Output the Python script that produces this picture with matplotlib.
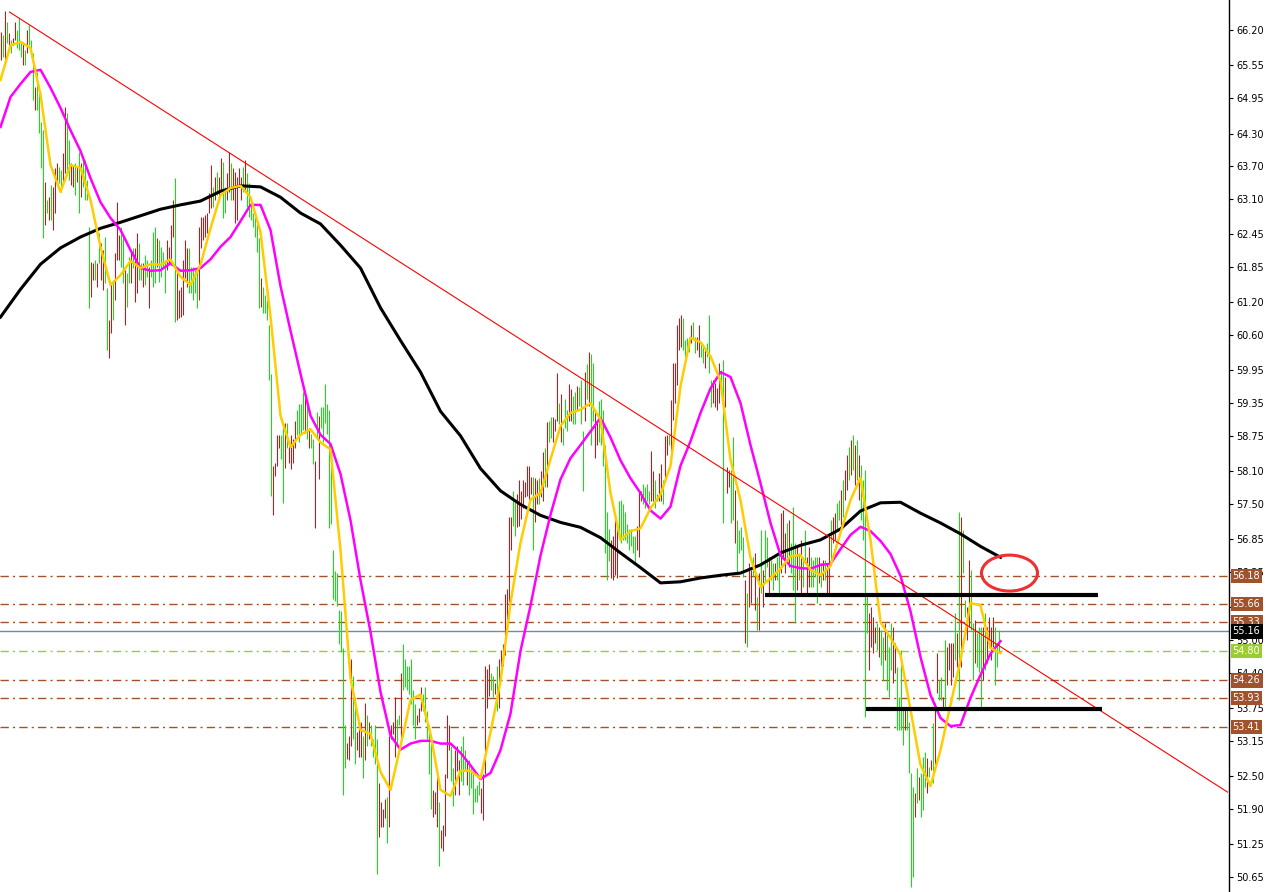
import matplotlib
matplotlib.use("Agg")
import matplotlib.pyplot as plt
import matplotlib.transforms as mtransforms
from matplotlib.patches import Ellipse
import numpy as np

# ---- bar data (oldest first), high / low, g = up bar, r = down bar ----
highs = [
    66.16, 66.11, 66.55, 66.35, 66.14, 66.02, 66.05, 66.35, 66.20,
    66.42, 65.96, 65.98, 65.83, 66.20, 66.29, 66.02,
    65.78, 65.15, 65.43, 65.10, 64.51, 64.36, 63.41, 63.08, 63.13, 63.35,
    63.32, 63.67, 63.76, 63.68, 63.63, 63.94, 64.79, 64.68, 64.18, 63.76,
    63.72, 63.76, 63.68, 63.96, 63.76, 63.85, 63.81, 63.45, 62.58, 61.94,
    61.92, 61.98, 61.92, 62.47, 62.29, 62.16,
    62.40, 61.46, 60.88, 61.56, 61.61, 62.11, 63.04, 62.44, 62.58, 62.44,
    61.79, 61.74, 62.03, 62.16, 62.20, 62.20, 62.47, 62.29, 61.92, 61.92, 62.07,
    61.98, 61.85, 61.98, 62.49, 62.58, 62.38, 62.34, 62.22, 62.12, 61.98, 62.34,
    62.22, 62.62, 63.08, 63.48, 61.79, 61.43, 61.48, 61.98, 62.34, 62.20,
    62.20, 61.85, 61.85, 61.79, 61.76, 62.58, 62.77, 62.77, 62.80, 62.84,
    63.21, 63.72, 63.32, 63.50, 63.59, 63.50, 63.85, 63.78, 63.32, 63.57,
    63.96, 63.76, 63.67, 63.59, 63.50, 63.67, 63.50, 63.68, 63.81, 63.57,
    63.39, 63.04, 62.84, 62.84, 62.75, 62.38, 61.65, 61.48, 61.33, 61.24,
    60.79, 59.89, 58.20, 58.25, 58.76, 58.76, 58.76, 58.94, 58.99, 58.99,
    58.57, 58.76, 58.70, 59.03, 59.22, 59.34, 59.34, 59.55, 59.55, 59.34,
    58.90, 58.79, 58.70, 58.29, 59.18, 59.12, 59.27, 59.27, 59.71, 59.34,
    59.22, 58.52,
    56.65, 56.27, 56.23, 55.56, 55.53, 54.85, 53.44, 53.11,
    53.24, 54.66, 54.34, 53.95, 53.31, 53.44, 53.50, 53.24, 53.85, 53.63,
    53.50, 53.44, 53.18, 53.44, 53.18, 52.37, 52.02, 51.89, 52.09, 52.12,
    53.24, 53.44, 53.50, 53.95, 53.56, 53.63, 54.40, 54.92, 54.66, 54.53,
    54.53, 54.66, 54.08, 53.82, 53.63, 53.76, 54.14, 54.01, 54.14, 53.69,
    53.44, 53.18, 52.25, 52.21, 52.54, 52.02, 51.51, 51.60, 52.54, 53.63,
    53.44, 53.05, 52.66, 52.99, 53.05, 52.79, 53.05, 53.24, 52.99, 52.79,
    52.79, 52.66, 52.60, 52.28, 52.34, 52.41, 52.28, 52.54, 54.53, 54.47,
    54.56, 54.40, 54.34, 54.21, 54.53, 54.66, 54.82, 54.92, 55.85, 55.94,
    57.26, 57.26, 57.74, 57.55, 57.68, 57.94, 57.74, 57.94, 57.91, 58.19,
    58.19, 58.00, 58.00, 57.97, 57.94, 57.97, 58.10, 58.45, 58.52, 59.00,
    59.03, 59.10, 59.10, 59.06, 59.90, 59.35, 59.51, 58.90, 59.42, 59.22,
    59.71, 59.61, 59.48, 59.55, 59.67, 59.64, 59.77, 58.84, 59.93, 60.06,
    60.28, 60.25, 60.09, 59.22, 59.03, 59.38, 59.42, 59.22, 58.58, 57.36,
    57.04, 56.84, 56.91, 57.23, 57.17, 57.55, 57.58, 57.49, 57.36, 57.13,
    57.04, 57.04, 56.91, 56.91, 57.10, 57.74, 57.74, 57.87, 57.81, 57.87,
    57.74, 58.48, 58.10, 57.94, 57.68, 58.07, 58.23, 57.94, 58.74, 58.77, 58.77,
    59.41, 60.09, 60.09, 60.78, 60.91, 60.97, 60.91, 60.51, 60.55,
    60.56, 60.78, 60.84, 60.56, 60.56, 60.78, 60.45, 60.38, 60.32, 60.45,
    60.97, 59.77, 59.77, 59.72, 59.63, 60.09, 59.96, 60.14, 59.83, 58.18,
    58.12, 58.12, 58.73, 57.75, 57.20, 57.02, 57.08, 56.89, 56.10, 55.86,
    56.41, 56.29, 56.52, 56.60, 55.79, 56.23, 57.02, 56.29, 57.02, 56.89,
    56.52, 56.47, 56.41, 56.41, 56.52, 56.60, 57.33, 57.39, 56.97, 57.15,
    57.20, 56.78, 57.44, 56.78, 56.71, 56.60, 56.84, 56.52, 57.02, 56.52,
    56.71, 56.52, 56.47, 56.52, 56.52, 56.52, 56.41, 56.47, 56.47, 56.41,
    56.97, 57.20, 57.26, 57.33, 57.52, 57.57, 57.75, 57.94, 58.12, 58.40,
    58.54, 58.67, 58.76, 58.58, 58.67, 58.40, 58.21, 57.94, 58.12,
    55.86, 55.50, 55.61, 55.42, 55.24, 55.31, 55.24, 55.18, 55.06, 55.31,
    55.13, 54.87, 55.31, 55.24, 54.95, 54.51, 53.95,
    54.82, 53.72, 53.72, 53.72, 53.50, 52.56, 52.30, 52.19, 52.65, 52.49,
    52.56, 52.85, 52.94, 52.83, 52.67, 52.80, 53.48, 53.84, 54.76, 54.27,
    54.32, 53.95, 55.00, 54.87, 54.95, 54.95, 54.95, 55.50, 55.13, 57.35,
    57.26, 57.02, 55.74, 55.61, 56.47, 56.29, 55.31, 55.37, 55.13, 55.24,
    55.24, 55.24, 55.50, 55.24, 55.42, 55.24, 55.42, 55.24, 54.95, 55.18,
]
lows = [
    65.65, 65.70, 65.59, 65.96, 65.83, 65.78, 65.92, 66.02, 65.87,
    65.83, 65.70, 65.56, 65.56, 65.78, 65.92, 65.74,
    64.91, 64.73, 64.73, 64.31, 63.67, 62.38, 62.62, 62.84, 62.71, 62.71,
    62.53, 62.84, 63.35, 63.39, 63.23, 63.41, 63.57, 63.54, 63.45, 63.35,
    63.32, 63.17, 63.41, 62.84, 63.13, 63.32, 63.08, 63.08, 61.10, 61.30,
    61.61, 61.61, 61.48, 61.92, 61.61, 61.43,
    61.56, 60.32, 60.18, 60.64, 60.88, 61.24, 61.98, 61.98, 61.85, 61.56,
    60.78, 61.11, 61.56, 61.56, 61.83, 61.21, 61.37, 61.61, 61.61, 61.48, 61.52,
    61.67, 61.10, 61.67, 61.48, 61.56, 61.85, 61.57, 61.67, 61.85, 61.37, 61.79,
    61.92, 61.89, 62.40, 60.84, 60.88, 60.91, 60.93, 60.97, 61.65, 61.48,
    61.37, 61.37, 61.24, 61.37, 61.10, 61.24, 62.20, 62.34, 62.40, 62.47,
    62.84, 62.93, 62.95, 63.08, 63.17, 63.08, 63.26, 62.75, 62.84, 63.08,
    63.23, 63.08, 63.08, 62.66, 62.71, 63.32, 63.08, 63.23, 63.26, 62.95,
    62.77, 62.71, 62.58, 62.40, 62.12, 61.10, 61.11, 61.00, 61.00, 60.88,
    59.77, 57.64, 57.30, 58.01, 58.20, 58.52, 58.32, 57.52, 58.16, 58.52,
    58.25, 58.14, 58.25, 58.52, 58.76, 58.63, 58.81, 58.85, 58.81, 58.70,
    58.52, 58.52, 58.23, 57.05, 58.70, 57.96, 58.90, 58.63, 58.99, 58.79,
    57.05, 57.14,
    55.75, 55.72, 55.62, 54.92, 54.79, 52.15, 52.66, 52.82,
    52.79, 53.05, 53.18, 52.73, 52.99, 52.86, 52.86, 52.47, 52.79, 53.05,
    53.18, 53.05, 52.86, 52.73, 50.70, 51.38, 51.57, 51.57, 51.73, 51.28,
    51.57, 53.18, 53.27, 52.86, 53.05, 53.44, 53.15, 54.08, 54.14, 54.08,
    54.01, 53.82, 53.44, 53.18, 53.44, 53.50, 53.69, 53.69, 53.50, 53.18,
    52.54, 51.89, 51.76, 51.80, 51.57, 50.86, 51.19, 51.12, 51.41, 52.47,
    52.99, 52.41, 51.96, 52.15, 52.60, 52.15, 52.41, 52.34, 52.60, 52.34,
    52.15, 52.28, 51.80, 52.02, 52.02, 52.15, 51.83, 51.70, 52.54, 53.76,
    53.98, 54.08, 53.95, 54.01, 53.69, 53.76, 54.34, 54.53, 54.72, 55.37,
    55.69, 56.65, 57.10, 56.91, 57.07, 57.10, 57.23, 57.42, 57.62, 57.65,
    57.49, 57.68, 56.65, 57.17, 57.49, 57.49, 57.62, 57.55, 57.81, 57.81,
    58.64, 58.71, 58.64, 58.84, 59.03, 58.97, 58.64, 58.58, 58.90, 58.84,
    59.03, 59.03, 58.97, 58.97, 59.22, 59.29, 58.97, 57.74, 59.03, 59.42,
    59.29, 58.58, 59.03, 58.35, 58.58, 58.64, 58.58, 58.19, 56.59, 56.11,
    56.46, 56.14, 56.11, 56.20, 56.14, 56.91, 56.78, 56.84, 56.84, 56.78,
    56.65, 56.72, 56.59, 56.39, 56.65, 56.52, 57.55, 57.49, 57.42, 57.55,
    57.49, 57.55, 57.55, 57.42, 57.55, 57.55, 57.55, 57.49, 58.00, 58.39, 58.58,
    58.36, 59.04, 59.35, 59.68, 60.32, 60.38, 60.32, 60.20, 60.36,
    60.29, 60.45, 60.51, 60.27, 60.32, 60.20, 60.20, 60.09, 59.99, 60.20,
    59.90, 59.28, 59.35, 59.28, 59.22, 59.35, 59.59, 57.15, 59.28, 57.70,
    57.81, 57.15, 57.20, 56.78, 56.23, 56.60, 56.65, 56.16, 54.95, 54.87,
    55.61, 55.68, 56.16, 55.55, 55.18, 55.18, 55.86, 55.61, 56.05, 56.34,
    55.86, 56.10, 55.92, 56.10, 56.10, 55.86, 56.23, 56.52, 56.23, 56.41,
    56.34, 56.23, 55.92, 55.31, 55.92, 56.10, 55.86, 55.97, 56.41, 55.86,
    55.97, 55.97, 55.97, 56.16, 55.68, 56.05, 55.97, 56.10, 56.10, 55.86,
    55.86, 56.41, 56.78, 56.84, 57.02, 57.20, 57.11, 57.26, 57.57, 57.75,
    57.94, 58.03, 58.12, 57.85, 57.94, 57.57, 57.20, 56.84, 53.59,
    55.13, 54.45, 54.87, 54.76, 54.95, 54.82, 54.69, 54.54, 54.27, 54.63,
    54.08, 53.95, 54.45, 54.21, 54.39, 53.35, 53.35,
    53.35, 53.07, 53.35, 53.35, 52.56, 50.47, 50.65, 51.75, 52.01, 52.06,
    51.75, 51.88, 52.30, 52.19, 52.49, 52.61, 52.38, 52.61, 54.03, 53.90,
    53.90, 53.72, 53.72, 54.17, 54.45, 54.17, 54.32, 54.63, 54.51, 53.90,
    54.51, 56.23, 55.42, 55.00, 55.24, 55.18, 54.27, 54.58, 54.51, 54.41,
    53.77, 54.27, 54.45, 54.58, 54.87, 54.63, 54.87, 54.17, 54.51, 54.76,
]
bar_dir = (
    "rgrgrgrrg" "ggrgrgg" "grggggrgrg" "rrrggrrggr" "rgrgrggggr" "rgrgrr"
    "ggrrgrrrgg" "rggrgrrggrg" "grgggrggggr" "rrrgrrrrrr" "gggggrrrrr"
    "rrgrgrrggr" "rgrrrrrgrg" "ggggggrggg" "ggrrrrggrg" "rrrrggggrg"
    "rggrgrgggg" "gg"
    "gggggggr" "rrggrrrgrg" "rgggg" "rrrrg" "rrrrggrggg" "ggggrrrggg"
    "ggrrrgrrrr" "rggrrrgggr" "ggggggrrrr" "rggrgrrrrr" "rrggrrrrrr"
    "rrgrrgrrgr" "ggrrrgrggg" "rrggrgggrg" "rggrrggggg" "grrrrggggg"
    "ggggrrrggg" "grrggrrgrrg"
    "rrrrrrggg" "grggrrggrg" "ggrrrrggrr" "rggrggggrg" "rrgrgrgrgg"
    "rggrggrrrg" "rgggrgrggr" "rgggg" "rgrgr" "rgrrggrgrr"
    "grgrgrgggg" "rrrrgrggrg" "ggrrggg"
    "grgggg" "rgrgg" "grgrgrrggr" "grrrrgrgrg" "grrggrgggr"
    "grrrrgggr"
)

# moving averages: fast and mid every 5 bars, slow every 10 bars
fast_ma = [
    65.28, 65.92, 65.98, 65.87, 65.01, 63.72, 63.23, 63.72, 63.67, 63.08,
    62.22, 61.52, 61.70, 61.96, 61.83, 61.90, 61.89, 61.99, 61.67, 61.52,
    61.89, 62.56, 63.17, 63.30, 63.34, 63.13, 62.49, 60.94, 59.12, 58.54,
    58.77, 58.87, 58.63, 58.50, 56.65, 54.30, 53.35, 53.28, 52.58, 52.25,
    53.05, 53.90, 54.00, 53.28, 52.25, 52.14, 52.60, 52.60, 52.46, 53.30,
    54.24, 55.68, 56.79, 57.58, 57.70, 58.32, 58.93, 59.17, 59.23, 59.35,
    59.05, 57.70, 56.84, 57.00, 57.05, 57.42, 57.67, 58.20, 59.66, 60.55,
    60.47, 60.21, 59.76, 58.31, 57.57, 56.51, 55.97, 56.14, 56.31, 56.54,
    56.56, 56.29, 56.19, 56.36, 56.97, 57.57, 57.98, 56.84, 55.33, 55.04,
    54.73, 53.72, 52.71, 52.32, 52.98, 53.81, 54.63, 55.68, 55.64, 54.85,
    54.76,
]
mid_ma = [
    64.42, 64.97, 65.21, 65.43, 65.47, 65.14, 64.77, 64.36, 63.98, 63.48,
    63.04, 62.75, 62.53, 62.16, 61.83, 61.78, 61.79, 61.92, 61.78, 61.79,
    61.83, 61.99, 62.22, 62.40, 62.69, 62.99, 62.99, 62.53, 61.50, 60.68,
    59.89, 59.12, 58.77, 58.60, 58.05, 57.20, 56.10, 55.15, 54.05, 53.25,
    52.99, 53.10, 53.15, 53.15, 53.10, 53.10, 52.93, 52.70, 52.45, 52.56,
    52.98, 53.65, 54.80, 55.63, 56.55, 57.30, 57.95, 58.34, 58.58, 58.83,
    59.08, 58.72, 58.30, 57.97, 57.70, 57.38, 57.23, 57.45, 58.20, 58.65,
    59.17, 59.62, 59.92, 59.83, 59.35, 58.58, 57.88, 57.15, 56.56, 56.36,
    56.32, 56.31, 56.38, 56.40, 56.67, 56.93, 57.08, 57.00, 56.82, 56.58,
    56.18, 55.53, 54.69, 53.99, 53.57, 53.42, 53.44, 53.94, 54.36, 54.75,
    54.98,
]
slow_ma = [
    60.93, 61.44, 61.90, 62.20, 62.40, 62.56, 62.67, 62.79, 62.91, 62.99,
    63.06, 63.24, 63.34, 63.32, 63.13, 62.84, 62.64, 62.25, 61.83, 61.10,
    60.50, 59.92, 59.20, 58.75, 58.15, 57.74, 57.49, 57.29, 57.16, 57.07,
    56.88, 56.60, 56.33, 56.05, 56.07, 56.14, 56.19, 56.23, 56.38, 56.60,
    56.74, 56.84, 57.04, 57.37, 57.52, 57.53, 57.33, 57.15, 56.95, 56.72,
    56.52,
]

price_ticks = ["66.20", "65.55", "64.95", "64.30", "63.70", "63.10", "62.45",
               "61.85", "61.20", "60.60", "59.95", "59.35", "58.75", "58.10",
               "57.50", "56.85", "56.25", "55.60", "55.00", "54.40", "53.75",
               "53.15", "52.50", "51.90", "51.25", "50.65"]

level_prices = [56.18, 55.66, 55.33, 54.26, 53.93, 53.41]
bid_price = 55.16
pivot_price = 54.80
support_prices = [55.83, 53.73]
support_start = [382, 432.5]
support_end = [548.5, 550.5]
trend_bars = [4.5, 613.5]
trend_prices = [66.53, 52.21]
target_bar, target_price = 504.5, 56.23

BROWN = "#a0522d"
plt.rcParams["lines.scale_dashes"] = False

fig = plt.figure(figsize=(12.68, 8.92), dpi=100)
ax = fig.add_axes([0, 0, 1229 / 1268, 1])
# 2 px per bar, bar centres on pixel centres
ax.set_xlim(-0.25, 614.25)
ax.set_ylim(50.375, 66.751)

n = min(len(highs), len(lows), len(bar_dir))
x = np.arange(n)
hi = np.array(highs[:n])
lo = np.array(lows[:n])
up = np.array([c == "g" for c in bar_dir[:n]])

# horizontal levels
for p in level_prices:
    ax.axhline(p, color=BROWN, lw=1.0, ls=(0, (6, 3, 1.5, 3)), zorder=1)
ax.axhline(bid_price, color="#778899", lw=1.0, zorder=1)
ax.axhline(pivot_price, color="#9acd32", lw=1.0, ls=(0, (6, 3, 1.5, 3)), zorder=1)

ax.vlines(x[up], lo[up], hi[up], colors="#00ee00", lw=0.72, zorder=2)
ax.vlines(x[~up], lo[~up], hi[~up], colors="#ff0000", lw=0.72, zorder=2)

ax.plot(np.arange(len(slow_ma)) * 10, slow_ma, color="black", lw=2.2, zorder=3)
ax.plot(np.arange(len(mid_ma)) * 5, mid_ma, color="#ff00ff", lw=1.8, zorder=4)
ax.plot(np.arange(len(fast_ma)) * 5, fast_ma, color="#ffcc00", lw=1.8, zorder=5)

ax.plot(trend_bars, trend_prices, color="#ff0000", lw=0.8, zorder=6)

for p, a, b in zip(support_prices, support_start, support_end):
    ax.plot([a, b], [p, p], color="black", lw=3.0, solid_capstyle="butt", zorder=6)

ax.add_patch(Ellipse((target_bar, target_price), 28, 0.66, fill=False,
                     ec="#ee3030", lw=2.2, zorder=7))

# right price scale
ax.yaxis.tick_right()
ax.set_yticks([float(t) for t in price_ticks])
ax.set_yticklabels(price_ticks)
ax.tick_params(axis="y", direction="out", length=3, width=0.8, pad=2,
               labelsize=7, colors="black")
ax.set_xticks([])
for s in ["left", "top", "bottom"]:
    ax.spines[s].set_visible(False)
ax.spines["right"].set_color("black")
ax.spines["right"].set_linewidth(1.0)

trans = mtransforms.blended_transform_factory(ax.transAxes, ax.transData)
tags = [(p, BROWN) for p in level_prices] + [(bid_price, "black"), (pivot_price, "#9acd32")]
for p, c in tags:
    ax.text(1.003, p, f"{p:.2f}", transform=trans, ha="left", va="center",
            fontsize=7, color="white", clip_on=False, zorder=10,
            bbox=dict(boxstyle="square,pad=0.22", fc=c, ec="none"))

fig.savefig("out.png", dpi=100)
